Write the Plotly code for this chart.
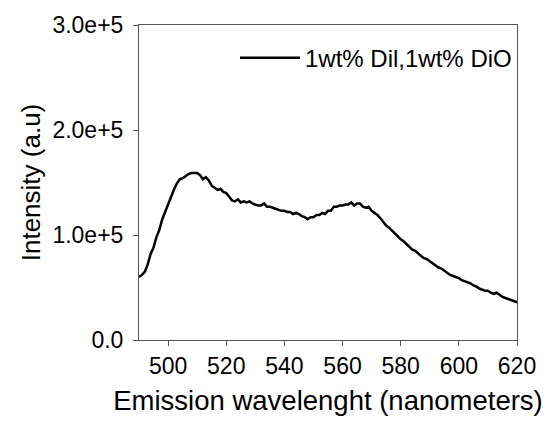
import plotly.graph_objects as go

series_name = "1wt% Dil,1wt% DiO"

wavelength = list(range(490, 621))

intensity_e5 = [
    0.60, 0.62, 0.65, 0.72, 0.82, 0.88, 0.98, 1.05, 1.15, 1.22,   # 490-499
    1.30, 1.37, 1.43, 1.49, 1.53, 1.54, 1.56, 1.58, 1.59, 1.59,   # 500-509
    1.59, 1.57, 1.53, 1.55, 1.52, 1.47, 1.45, 1.43, 1.44, 1.41,   # 510-519
    1.40, 1.37, 1.33, 1.32, 1.34, 1.31, 1.32, 1.31, 1.32, 1.30,   # 520-529
    1.29, 1.28, 1.28, 1.30, 1.27, 1.27, 1.26, 1.25, 1.24, 1.23,   # 530-539
    1.23, 1.22, 1.22, 1.20, 1.21, 1.20, 1.18, 1.17, 1.15, 1.17,   # 540-549
    1.17, 1.19, 1.19, 1.21, 1.20, 1.23, 1.23, 1.27, 1.27, 1.28,   # 550-559
    1.28, 1.29, 1.29, 1.31, 1.28, 1.30, 1.30, 1.27, 1.26, 1.27,   # 560-569
    1.23, 1.21, 1.19, 1.16, 1.12, 1.09, 1.07, 1.04, 1.02, 0.99,   # 570-579
    0.96, 0.94, 0.91, 0.89, 0.86, 0.85, 0.82, 0.80, 0.78, 0.77,   # 580-589
    0.75, 0.73, 0.71, 0.69, 0.68, 0.66, 0.64, 0.62, 0.61, 0.60,   # 590-599
    0.59, 0.57, 0.56, 0.55, 0.54, 0.52, 0.51, 0.49, 0.48, 0.47,   # 600-609
    0.47, 0.45, 0.44, 0.45, 0.43, 0.41, 0.40, 0.39, 0.38, 0.37,   # 610-619
    0.36,                                                         # 620
]
intensity = [v * 1e5 for v in intensity_e5]

x_tickvals = [500, 520, 540, 560, 580, 600, 620]
y_tickvals = [0, 1e5, 2e5, 3e5]
y_ticktext = ["0.0", "1.0e+5", "2.0e+5", "3.0e+5"]

FONT = "Liberation Sans, Arial, sans-serif"
AXIS_COLOR = "#555555"

fig = go.Figure()
fig.add_trace(go.Scatter(
    x=wavelength, y=intensity, mode="lines", name=series_name,
    line=dict(color="black", width=2.5),
))

fig.update_layout(
    width=550, height=424,
    margin=dict(l=139, r=33, t=25, b=84),
    paper_bgcolor="white", plot_bgcolor="white",
    font=dict(family=FONT, color="black", size=22),
    showlegend=True,
    legend=dict(
        x=1, y=0.895, xanchor="right", yanchor="middle",
        bgcolor="rgba(0,0,0,0)", font=dict(size=24, family=FONT),
        itemwidth=60, borderwidth=0,
    ),
)

fig.update_xaxes(
    range=[490, 620], tickvals=x_tickvals, automargin=False,
    showline=True, linecolor=AXIS_COLOR, linewidth=1, mirror=True,
    ticks="outside", ticklen=5, tickcolor=AXIS_COLOR,
    showgrid=False, zeroline=False,
    tickfont=dict(size=23),
    title=dict(text="Emission wavelenght (nanometers)", font=dict(size=27.5), standoff=13),
)
fig.update_yaxes(
    range=[0, 3e5], tickvals=y_tickvals, ticktext=y_ticktext, automargin=False,
    showline=True, linecolor=AXIS_COLOR, linewidth=1, mirror=True,
    ticks="outside", ticklen=5, tickcolor=AXIS_COLOR, ticklabelstandoff=5,
    showgrid=False, zeroline=False,
    tickfont=dict(size=23),
    title=dict(text="Intensity (a.u)", font=dict(size=26), standoff=4),
)

fig.write_html("out.html", config={"displayModeBar": False},
               post_script="document.body.style.margin='0';")
